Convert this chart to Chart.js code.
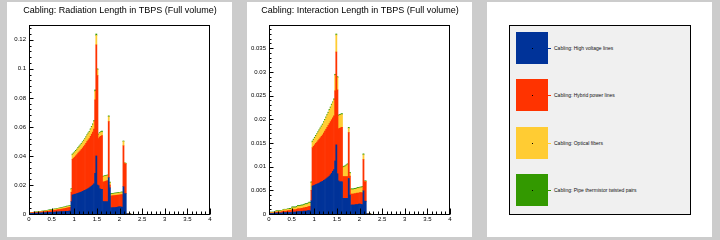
<!DOCTYPE html>
<html><head><meta charset="utf-8">
<script src="https://cdn.jsdelivr.net/npm/chart.js@4.4.1/dist/chart.umd.min.js"></script>
<style>
html,body{margin:0;padding:0;background:#cccccc;}
#root{position:relative;width:720px;height:240px;background:#cccccc;overflow:hidden;font-family:"Liberation Sans",Arial,sans-serif;}
.pad{position:absolute;top:2px;width:225px;height:235px;background:#ffffff;}
.cv{position:absolute;top:0;width:240px;height:240px;}
#legbox{position:absolute;left:509px;top:25px;width:182px;height:190px;background:#f0f0f0;border:1px solid #000;box-sizing:border-box;}
.sq{position:absolute;width:32px;height:32px;}
.dot{position:absolute;width:1px;height:1px;background:#000;}
.dash{position:absolute;width:3px;height:1px;}
.lt{position:absolute;font-size:5px;line-height:6px;color:#111;white-space:nowrap;transform:translateY(-50%);}
</style>
</head><body>
<div id="root">
  <div class="pad" style="left:7px"></div>
  <div class="pad" style="left:247px"></div>
  <div class="pad" style="left:487px"></div>
  <canvas id="c1" class="cv" width="240" height="240" style="left:0px"></canvas>
  <canvas id="c2" class="cv" width="240" height="240" style="left:240px"></canvas>
  <div id="legbox"></div>
</div>
<script>
// ---------------- data ----------------
const BIN_WIDTH = 0.025;
const N_BINS = 90;
const BIN_CENTERS = Array.from({length: N_BINS}, (_, i) => +((i + 0.5) * BIN_WIDTH).toFixed(4));

const SERIES_NAMES = [
  'Cabling: High voltage lines',
  'Cabling: Hybrid power lines',
  'Cabling: Optical fibers',
  'Cabling: Pipe thermistor twisted pairs'
];
const SERIES_COLORS = ['#003399', '#ff3300', '#ffcc33', '#339900'];

const TITLE_RAD = 'Cabling: Radiation Length in TBPS (Full volume)';
const TITLE_INT = 'Cabling: Interaction Length in TBPS (Full volume)';

// Radiation length (x/X0)
const RAD_HV = [
  0.0004,0.0004,0.0005,0.0005,0.0005,0.0006,0.0006,0.0006,0.0007,0.0007,
  0.0007,0.0008,0.0008,0.0008,0.0009,0.0009,0.0010,0.0010,0.0011,0.0011,
  0.0012,0.0012,0.0013,0.0013,0.0014,0.0014,0.0015,0.0015,0.0016,0.0016,
  0.0017,0.0017,0.0018,0.0019,0.0019,0.0020,0.0021,
  0.0085,
  0.0131,0.0133,0.0136,0.0138,0.0140,0.0143,0.0146,0.0149,0.0152,0.0156,
  0.0160,0.0163,0.0167,0.0171,0.0176,0.0181,0.0187,0.0193,0.0200,0.0208,
  0.0280,0.0400,0.0200,0.0195,0.0175,0.0170,0.0170,
  0.0085,0.0085,0.0085,0.0085,0.0085,0.0250,0.0180,
  0.0043,0.0043,0.0044,0.0044,0.0045,0.0046,0.0048,0.0049,0.0049,0.0048,0.0047,
  0.0188,0.0140,0.0140,
  0,0,0,0
];
const RAD_HYB = [
  0.0003,0.0003,0.0003,0.0004,0.0004,0.0004,0.0005,0.0005,0.0005,0.0006,
  0.0006,0.0007,0.0007,0.0008,0.0008,0.0009,0.0009,0.0010,0.0010,0.0011,
  0.0011,0.0012,0.0013,0.0013,0.0014,0.0015,0.0015,0.0016,0.0017,0.0018,
  0.0019,0.0020,0.0021,0.0022,0.0023,0.0024,0.0025,
  0.0065,
  0.0246,0.0252,0.0256,0.0262,0.0270,0.0277,0.0282,0.0287,0.0293,0.0299,
  0.0305,0.0312,0.0320,0.0329,0.0334,0.0339,0.0348,0.0357,0.0365,0.0377,
  0.0506,0.0765,0.0754,0.0325,0.0355,0.0365,0.0370,
  0.0135,0.0137,0.0140,0.0143,0.0145,0.0387,0.0020,
  0.0081,0.0082,0.0082,0.0083,0.0083,0.0083,0.0082,0.0082,0.0083,0.0085,0.0087,
  0.0282,0.0208,0.0205,
  0,0,0,0
];
const RAD_OPT = [
  0.0001,0.0001,0.0001,0.0001,0.0002,0.0002,0.0002,0.0002,0.0002,0.0003,
  0.0003,0.0003,0.0003,0.0004,0.0004,0.0004,0.0004,0.0005,0.0005,0.0005,
  0.0005,0.0006,0.0006,0.0006,0.0006,0.0007,0.0007,0.0007,0.0007,0.0008,
  0.0008,0.0008,0.0008,0.0009,0.0009,0.0009,0.0009,
  0.0020,
  0.0030,0.0030,0.0031,0.0032,0.0032,0.0033,0.0034,0.0035,0.0036,0.0037,
  0.0038,0.0039,0.0040,0.0041,0.0043,0.0044,0.0046,0.0048,0.0050,0.0052,
  0.0060,0.0065,0.0040,0.0025,0.0025,0.0026,0.0025,
  0.0035,0.0036,0.0035,0.0034,0.0034,0.0033,0.0015,
  0.0011,0.0011,0.0011,0.0012,0.0012,0.0012,0.0012,0.0013,0.0013,0.0013,0.0013,
  0.0029,0.0003,0.0003,
  0,0,0,0
];
const RAD_PIPE = [
  0.0002,0.0002,0.0002,0.0002,0.0002,0.0002,0.0002,0.0002,0.0002,0.0002,
  0.0002,0.0002,0.0002,0.0002,0.0002,0.0003,0.0003,0.0003,0.0003,0.0003,
  0.0003,0.0003,0.0003,0.0003,0.0003,0.0003,0.0003,0.0004,0.0004,0.0004,
  0.0004,0.0004,0.0004,0.0004,0.0004,0.0004,0.0004,
  0.0005,
  0.0006,0.0006,0.0006,0.0006,0.0006,0.0006,0.0006,0.0006,0.0006,0.0006,
  0.0006,0.0006,0.0006,0.0006,0.0006,0.0006,0.0006,0.0006,0.0006,0.0006,
  0.0009,0.0010,0.0006,0.0006,0.0006,0.0006,0.0006,
  0.0005,0.0005,0.0005,0.0005,0.0005,0.0006,0.0005,
  0.0005,0.0005,0.0005,0.0005,0.0005,0.0005,0.0005,0.0005,0.0005,0.0005,0.0005,
  0.0004,0.0002,0.0002,
  0.0003,0.0003,0.0002,0.0002
];

// Interaction length (x/lambda_I)
const INT_HV = [
  0.0001,0.0001,0.0001,0.0001,0.0001,0.0002,0.0002,0.0002,0.0002,0.0002,
  0.0002,0.0002,0.0003,0.0003,0.0003,0.0003,0.0003,0.0003,0.0003,0.0003,
  0.0004,0.0004,0.0004,0.0004,0.0004,0.0005,0.0005,0.0005,0.0005,0.0005,
  0.0006,0.0006,0.0006,0.0006,0.0007,0.0007,0.0007,
  0.0028,
  0.0059,0.0060,0.0061,0.0062,0.0063,0.0064,0.0065,0.0067,0.0068,0.0069,
  0.0071,0.0072,0.0074,0.0076,0.0078,0.0080,0.0083,0.0086,0.0090,0.0094,
  0.0112,0.0146,0.0085,0.0070,0.0068,0.0068,0.0068,
  0.0033,0.0033,0.0033,0.0033,0.0033,0.0075,0.0040,
  0.0019,0.0019,0.0019,0.0019,0.0020,0.0020,0.0020,0.0021,0.0021,0.0020,0.0020,
  0.0049,0.0027,0.0027,
  0,0,0,0
];
const INT_HYB = [
  0.0001,0.0001,0.0001,0.0001,0.0001,0.0001,0.0002,0.0002,0.0002,0.0002,
  0.0002,0.0003,0.0003,0.0003,0.0003,0.0003,0.0004,0.0004,0.0004,0.0004,
  0.0005,0.0005,0.0005,0.0005,0.0006,0.0006,0.0006,0.0006,0.0007,0.0007,
  0.0007,0.0007,0.0008,0.0008,0.0008,0.0009,0.0009,
  0.0022,
  0.0081,0.0083,0.0085,0.0087,0.0089,0.0091,0.0093,0.0094,0.0096,0.0098,
  0.0100,0.0103,0.0105,0.0107,0.0109,0.0111,0.0112,0.0113,0.0113,0.0113,
  0.0148,0.0196,0.0177,0.0110,0.0113,0.0114,0.0115,
  0.0046,0.0046,0.0046,0.0046,0.0046,0.0097,0.0040,
  0.0023,0.0023,0.0023,0.0024,0.0023,0.0024,0.0024,0.0023,0.0024,0.0025,0.0025,
  0.0066,0.0041,0.0041,
  0,0,0,0
];
const INT_OPT = [
  0.0001,0.0001,0.0001,0.0001,0.0001,0.0001,0.0002,0.0002,0.0002,0.0002,
  0.0002,0.0002,0.0002,0.0003,0.0003,0.0003,0.0003,0.0003,0.0003,0.0003,
  0.0004,0.0004,0.0004,0.0004,0.0004,0.0005,0.0005,0.0005,0.0005,0.0005,
  0.0005,0.0006,0.0006,0.0006,0.0006,0.0007,0.0007,
  0.0016,
  0.0012,0.0013,0.0014,0.0015,0.0016,0.0017,0.0018,0.0019,0.0020,0.0021,
  0.0022,0.0023,0.0024,0.0025,0.0026,0.0028,0.0029,0.0031,0.0032,0.0034,
  0.0033,0.0036,0.0026,0.0027,0.0027,0.0027,0.0027,
  0.0019,0.0020,0.0021,0.0023,0.0025,0.0009,0.0006,
  0.0009,0.0009,0.0009,0.0009,0.0009,0.0009,0.0010,0.0010,0.0010,0.0010,0.0011,
  0.0010,0.0001,0.0001,
  0,0,0,0
];
const INT_PIPE = [
  0.0001,0.0001,0.0001,0.0001,0.0001,0.0001,0.0001,0.0001,0.0001,0.0001,
  0.0001,0.0001,0.0001,0.0001,0.0001,0.0001,0.0001,0.0001,0.0002,0.0002,
  0.0002,0.0002,0.0002,0.0002,0.0002,0.0002,0.0002,0.0002,0.0002,0.0002,
  0.0002,0.0002,0.0002,0.0002,0.0002,0.0002,0.0002,
  0.0002,
  0.0002,0.0002,0.0002,0.0002,0.0002,0.0002,0.0002,0.0002,0.0002,0.0002,
  0.0002,0.0002,0.0002,0.0002,0.0002,0.0002,0.0002,0.0002,0.0002,0.0002,
  0.0002,0.0002,0.0002,0.0002,0.0002,0.0002,0.0002,
  0.0002,0.0002,0.0002,0.0002,0.0002,0.0002,0.0002,
  0.0002,0.0002,0.0002,0.0002,0.0002,0.0002,0.0002,0.0002,0.0002,0.0002,0.0002,
  0.0002,0.0001,0.0001,
  0.0001,0.0001,0.0001,0.0001
];

// Axis ticks
const X_TICKS = [0, 0.5, 1, 1.5, 2, 2.5, 3, 3.5, 4];
const X_MINOR_STEP = 0.1;
const X_MAX = 4;
const Y_RAD_TICKS = [0, 0.02, 0.04, 0.06, 0.08, 0.1, 0.12];
const Y_RAD_MINOR_STEP = 0.004;
const Y_RAD_MAX = 0.1302;
const Y_INT_TICKS = [0, 0.005, 0.01, 0.015, 0.02, 0.025, 0.03, 0.035];
const Y_INT_MINOR_STEP = 0.001;
const Y_INT_MAX = 0.0399;

// ---------------- drawing ----------------
const FONT = '"Liberation Sans", Arial, sans-serif';

const rootFrame = {
  id: 'rootFrame',
  afterDraw(chart, args, o) {
    const {ctx, chartArea: a, scales} = chart;
    const x = scales.x, y = scales.y;
    ctx.save();
    ctx.strokeStyle = '#000';
    ctx.lineWidth = 1;
    const bottom = Math.round(a.bottom) + 0.5;
    const left = Math.round(a.left) + 0.5;
    ctx.beginPath();
    // x ticks (inward, from bottom axis)
    const nx = Math.round(X_MAX / X_MINOR_STEP);
    for (let k = 0; k <= nx; k++) {
      const v = k * X_MINOR_STEP;
      const major = X_TICKS.some(t => Math.abs(t - v) < 1e-6);
      const px = Math.round(x.getPixelForValue(v)) + 0.5;
      ctx.moveTo(px, bottom);
      ctx.lineTo(px, bottom - (major ? o.xMajorLen : o.xMinorLen));
    }
    // y ticks (inward, from left axis)
    const ny = Math.floor(o.yMax / o.yMinorStep + 1e-6);
    for (let k = 0; k <= ny; k++) {
      const v = k * o.yMinorStep;
      const major = o.yTicks.some(t => Math.abs(t - v) < o.yMinorStep * 0.01);
      const py = Math.round(y.getPixelForValue(v)) + 0.5;
      ctx.moveTo(left, py);
      ctx.lineTo(left + (major ? o.yMajorLen : o.yMinorLen), py);
    }
    ctx.stroke();
    // frame
    ctx.strokeRect(left, Math.round(a.top) + 0.5, Math.round(a.right) - Math.round(a.left) - 1, Math.round(a.bottom) - Math.round(a.top));
    // title
    ctx.fillStyle = '#000';
    ctx.font = '9px ' + FONT;
    ctx.textAlign = 'center';
    ctx.textBaseline = 'middle';
    ctx.fillText(o.title, 120, 10.5);
    ctx.restore();
  }
};

function makeChart(id, series, title, yTicks, yMax, yMinorStep) {
  const datasets = series.map((arr, k) => ({
    label: SERIES_NAMES[k],
    data: BIN_CENTERS.map((c, i) => ({x: c, y: arr[i]})),
    backgroundColor: SERIES_COLORS[k],
    borderWidth: 0,
    barPercentage: 1,
    categoryPercentage: 1
  }));
  return new Chart(document.getElementById(id), {
    type: 'bar',
    data: {datasets},
    options: {
      responsive: false,
      animation: false,
      devicePixelRatio: 1,
      events: [],
      layout: {padding: {top: 25, right: 30, bottom: 0, left: 0}},
      plugins: {
        legend: {display: false},
        tooltip: {enabled: false},
        title: {display: false},
        rootFrame: {title, yTicks, yMax, yMinorStep, xMajorLen: 6, xMinorLen: 3, yMajorLen: 4, yMinorLen: 2}
      },
      scales: {
        x: {
          type: 'linear', min: 0, max: X_MAX, offset: false, stacked: true,
          grid: {display: false, drawTicks: false},
          border: {display: false},
          afterBuildTicks: s => { s.ticks = X_TICKS.map(v => ({value: v})); },
          afterFit: s => { s.height = 26; },
          ticks: {autoSkip: false, maxRotation: 0, padding: 2, color: '#000',
                  font: {family: FONT, size: 6}, callback: v => String(v)}
        },
        y: {
          type: 'linear', min: 0, max: yMax, stacked: true,
          grid: {display: false, drawTicks: false},
          border: {display: false},
          afterBuildTicks: s => { s.ticks = yTicks.map(v => ({value: v})); },
          afterFit: s => { s.width = 29; },
          ticks: {autoSkip: false, padding: 3, color: '#000',
                  font: {family: FONT, size: 6}, callback: v => String(v)}
        }
      }
    },
    plugins: [rootFrame]
  });
}

makeChart('c1', [RAD_HV, RAD_HYB, RAD_OPT, RAD_PIPE], TITLE_RAD, Y_RAD_TICKS, Y_RAD_MAX, Y_RAD_MINOR_STEP);
makeChart('c2', [INT_HV, INT_HYB, INT_OPT, INT_PIPE], TITLE_INT, Y_INT_TICKS, Y_INT_MAX, Y_INT_MINOR_STEP);

// ---------------- legend panel ----------------
const root = document.getElementById('root');
SERIES_NAMES.forEach((name, k) => {
  const top = 32 + k * 47.3;
  const cy = top + 16;
  const sq = document.createElement('div');
  sq.className = 'sq';
  sq.style.left = '516px'; sq.style.top = top + 'px'; sq.style.background = SERIES_COLORS[k];
  root.appendChild(sq);
  const dot = document.createElement('div');
  dot.className = 'dot';
  dot.style.left = '532px'; dot.style.top = Math.round(cy) + 'px';
  root.appendChild(dot);
  const dash = document.createElement('div');
  dash.className = 'dash';
  dash.style.left = '548px'; dash.style.top = Math.round(cy) + 'px'; dash.style.background = SERIES_COLORS[k];
  root.appendChild(dash);
  const t = document.createElement('div');
  t.className = 'lt';
  t.style.left = '554px'; t.style.top = cy + 'px';
  t.textContent = name;
  root.appendChild(t);
});
</script>
</body></html>
